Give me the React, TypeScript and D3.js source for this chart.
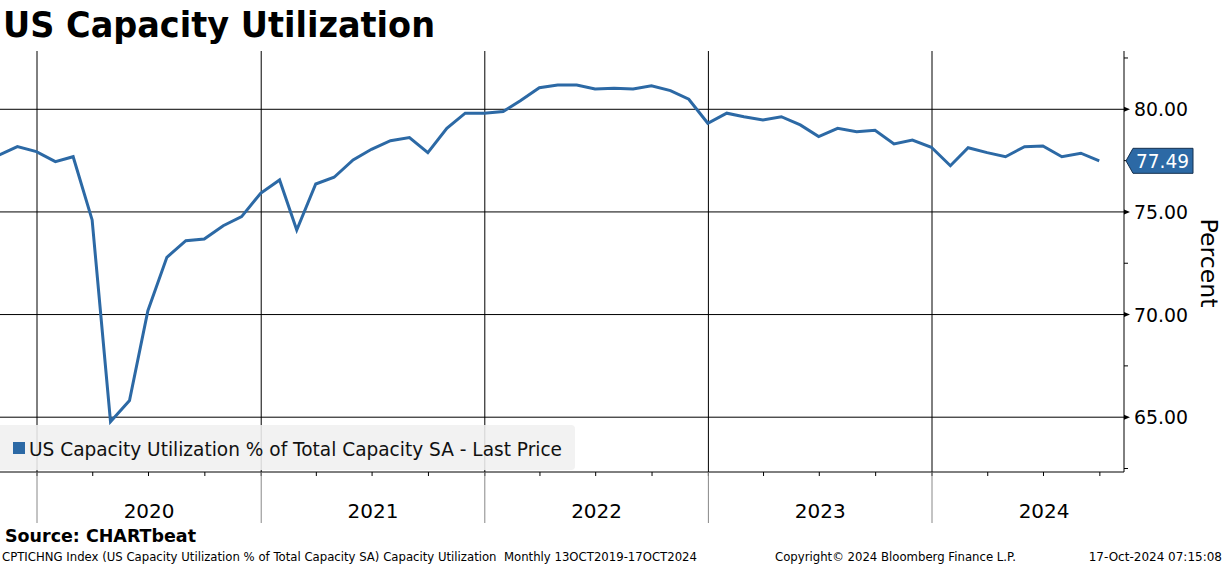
import React from "react";
import * as d3 from "d3";

// monthly capacity utilization, Oct 2019 .. Sep 2024
const startMonth = new Date(2019, 9, 1);
const values = [
  77.77, 78.18, 77.94, 77.45, 77.69, 74.61, 64.78, 65.81, 70.19, 72.79, 73.6, 73.68,
  74.33, 74.77, 75.91, 76.56, 74.12, 76.36, 76.69, 77.53, 78.05, 78.47, 78.62, 77.89,
  79.07, 79.81, 79.81, 79.89, 80.42, 81.05, 81.18, 81.18, 80.99, 81.02, 80.99, 81.15,
  80.91, 80.49, 79.32, 79.81, 79.64, 79.48, 79.64, 79.24, 78.67, 79.07, 78.91, 78.98,
  78.31, 78.5, 78.15, 77.25, 78.13, 77.89, 77.69, 78.18, 78.21, 77.69, 77.86, 77.49,
];
const yearLabels = ["2020", "2021", "2022", "2023", "2024"];
const majorTicks = [65, 70, 75, 80];
const minorTicks = [62.5, 67.5, 72.5, 77.5, 82.5];
const lastValue = "77.49";

const W = 1224;
const H = 566;
const plot = { left: 0, right: 1124, top: 51, bottom: 472 };
const blue = "#2c69a5";
const font = "'DejaVu Sans', Verdana, sans-serif";

const App: React.FC = () => {
  // points sit at month end
  const data = values.map((v, i) => ({
    date: d3.timeDay.offset(d3.timeMonth.offset(startMonth, i + 1), -1),
    value: v,
  }));

  const x = d3
    .scaleTime()
    .domain([new Date(2020, 0, 1), new Date(2024, 0, 1)])
    .range([37, 932]);

  const y = d3.scaleLinear().domain([62.33, 82.84]).range([plot.bottom, plot.top]);

  const line = d3
    .line<{ date: Date; value: number }>()
    .x((d) => x(d.date))
    .y((d) => y(d.value));

  const yearStarts = yearLabels.map((yr) => new Date(+yr, 0, 1));
  const quarters = d3.timeMonth
    .every(3)!
    .range(new Date(2019, 9, 1), new Date(2024, 11, 1))
    .filter((d) => x(d) > plot.left && x(d) < plot.right);

  const lastY = y(values[values.length - 1]);

  return (
    <svg width={W} height={H} style={{ position: "absolute", left: 0, top: 0, background: "#fff" }}>
      <defs>
        <clipPath id="plotClip">
          <rect x={plot.left} y={plot.top} width={plot.right - plot.left} height={plot.bottom - plot.top} />
        </clipPath>
      </defs>

      {/* Title */}
      <text x={3} y={37} fontFamily={font} fontWeight="bold" fontSize={35} textLength={432} lengthAdjust="spacingAndGlyphs">
        US Capacity Utilization
      </text>

      {/* horizontal gridlines */}
      {majorTicks.map((t) => (
        <line key={t} x1={plot.left} x2={plot.right} y1={y(t)} y2={y(t)} stroke="#000" strokeWidth={1} />
      ))}

      {/* vertical year gridlines */}
      {yearStarts.map((d) => (
        <line key={+d} x1={x(d)} x2={x(d)} y1={plot.top} y2={plot.bottom} stroke="#000" strokeWidth={1} />
      ))}

      {/* series */}
      <path d={line(data) || ""} fill="none" stroke={blue} strokeWidth={3} strokeLinejoin="miter" clipPath="url(#plotClip)" />

      {/* Legend */}
      <rect x={-4} y={425} width={579} height={45} rx={4} fill="#f0f0f0" fillOpacity={0.88} />
      <rect x={13} y={442} width={12} height={12} fill={blue} />
      <text x={29} y={456} fontFamily={font} fontSize={19} fill="#111" textLength={533} lengthAdjust="spacingAndGlyphs">
        US Capacity Utilization % of Total Capacity SA - Last Price
      </text>

      {/* right axis */}
      <line x1={plot.right} x2={plot.right} y1={plot.top} y2={plot.bottom} stroke="#000" />
      {minorTicks.map((t) => (
        <line key={t} x1={plot.right} x2={plot.right + 4} y1={y(t)} y2={y(t)} stroke="#000" />
      ))}
      {majorTicks.map((t) => (
        <g key={t}>
          <path d={`M${plot.right},${y(t) - 2.5} L${plot.right + 6},${y(t)} L${plot.right},${y(t) + 2.5} Z`} fill="#000" />
          <text x={1134} y={y(t) + 7} fontFamily={font} fontSize={20} textLength={54} lengthAdjust="spacingAndGlyphs">
            {t.toFixed(2)}
          </text>
        </g>
      ))}
      <text
        transform={`translate(1201, 263) rotate(90)`}
        textAnchor="middle"
        fontFamily={font}
        fontSize={23}
        textLength={89}
        lengthAdjust="spacingAndGlyphs"
      >
        Percent
      </text>

      {/* last value tag */}
      <path
        d={`M${plot.right + 2},${lastY} L${plot.right + 9},${lastY - 12.5} L1193,${lastY - 12.5} L1193,${lastY + 12.5} L${plot.right + 9},${lastY + 12.5} Z`}
        fill={blue}
        stroke="#15304f"
        strokeWidth={1}
      />
      <text x={1136} y={lastY + 7.5} fontFamily={font} fontSize={20} fill="#fff" textLength={53} lengthAdjust="spacingAndGlyphs">
        {lastValue}
      </text>

      {/* bottom axis */}
      <line x1={plot.left} x2={plot.right} y1={plot.bottom} y2={plot.bottom} stroke="#000" />
      {quarters.map((d) => (
        <line key={+d} x1={x(d)} x2={x(d)} y1={plot.bottom} y2={plot.bottom + 4} stroke="#000" />
      ))}
      {yearStarts.map((d) => (
        <line key={+d} x1={x(d)} x2={x(d)} y1={plot.bottom} y2={523} stroke="#888" />
      ))}
      {yearLabels.map((yr, i) => {
        const x0 = x(yearStarts[i]);
        const x1 = x(new Date(+yr + 1, 0, 1));
        return (
          <text key={yr} x={(x0 + x1) / 2} y={518} textAnchor="middle" fontFamily={font} fontSize={20}>
            {yr}
          </text>
        );
      })}

      {/* footer */}
      <text x={5} y={542} fontFamily={font} fontWeight="bold" fontSize={17} textLength={191} lengthAdjust="spacingAndGlyphs">
        Source: CHARTbeat
      </text>
      <text x={2} y={561} fontFamily={font} fontSize={12} textLength={695} lengthAdjust="spacingAndGlyphs" style={{ whiteSpace: "pre" }}>
        {"CPTICHNG Index (US Capacity Utilization % of Total Capacity SA) Capacity Utilization  Monthly 13OCT2019-17OCT2024"}
      </text>
      <text x={775} y={561} fontFamily={font} fontSize={12} textLength={241} lengthAdjust="spacingAndGlyphs">
        Copyright© 2024 Bloomberg Finance L.P.
      </text>
      <text x={1222} y={561} textAnchor="end" fontFamily={font} fontSize={12}>
        17-Oct-2024 07:15:08
      </text>
    </svg>
  );
};

export default App;
